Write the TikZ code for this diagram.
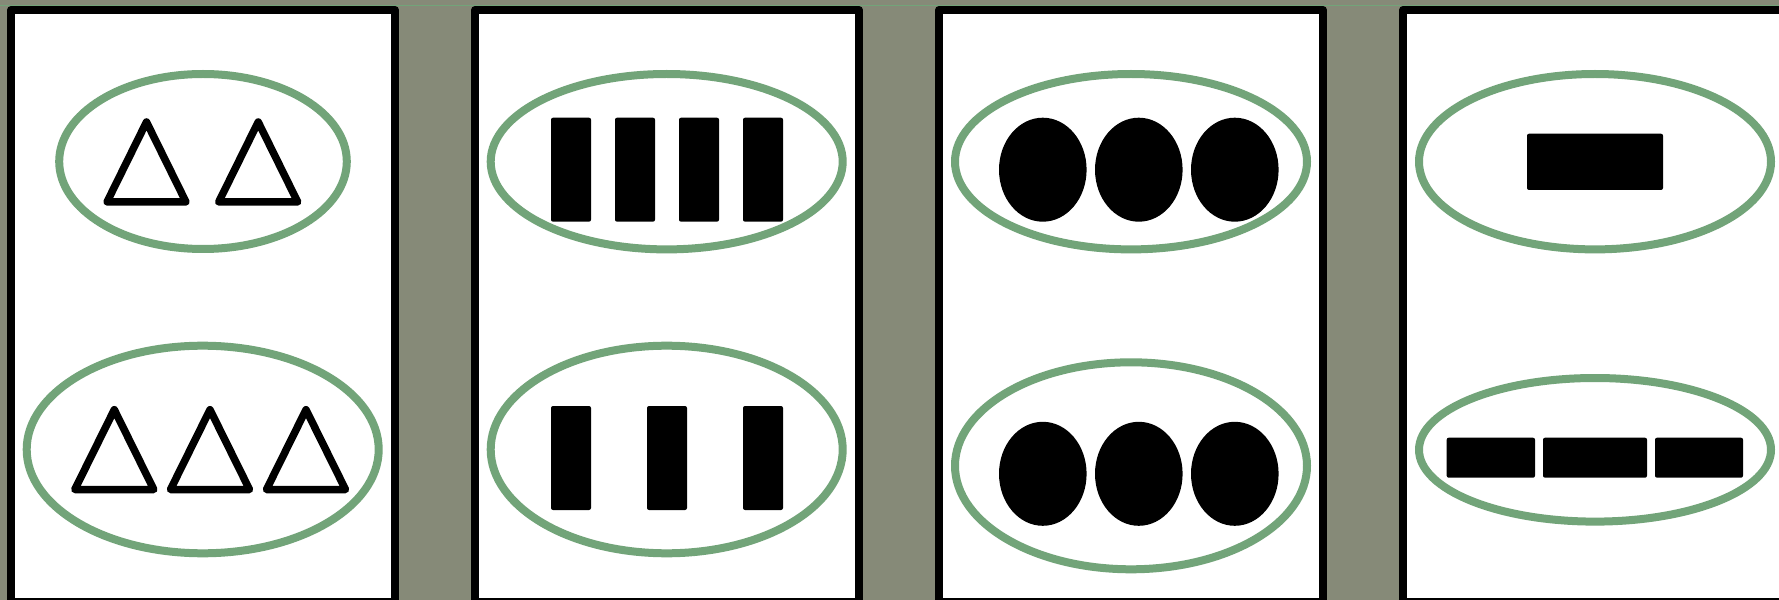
\documentclass[tikz,border=0pt]{standalone}
\usepackage{tikz}
\usetikzlibrary{positioning}

\definecolor{bggray}{HTML}{868A78}
\definecolor{ringgreen}{HTML}{72A479}

\begin{document}
\begin{tikzpicture}[x=0.1mm, y=-0.1mm,
    panel/.style={draw=black, fill=white, line width=0.8mm, line join=round},
    ring/.style={draw=ringgreen, line width=0.8mm},
    tri/.style={draw=black, fill=white, line width=0.75mm, line join=round},
    bar/.style={fill=black, rounded corners=0.2mm}]
    \fill[bggray] (0, 0) rectangle (1779, 600);
    \useasboundingbox (0, 0) rectangle (1779, 600);
    \draw[ringgreen, line width=0.15mm] (0, 5.5) -- (1779, 5.5);

    % Panels
    \foreach \x in {11, 475, 939, 1403} {
        \draw[panel] (\x, 10) rectangle ++(384, 592);
    }

    % Panel 1: triangles
    \draw[ring] (203, 161.5) ellipse [x radius=143.8, y radius=87.5];
    \foreach \cx in {146.5, 258.2} {
        \draw[tri] (\cx, 122) -- (\cx+39.5, 202) -- (\cx-39.5, 202) -- cycle;
    }
    \draw[ring] (202.7, 449.5) ellipse [x radius=176, y radius=103.8];
    \foreach \cx in {114.3, 210, 306} {
        \draw[tri] (\cx, 409.7) -- (\cx+39.5, 489.5) -- (\cx-39.5, 489.5) -- cycle;
    }

    % Panel 2: upright bars
    \draw[ring] (666.7, 161.7) ellipse [x radius=176, y radius=87.7];
    \foreach \cx in {571, 635, 699, 763} {
        \fill[bar] (\cx-20, 117.7) rectangle ++(40, 104);
    }
    \draw[ring] (666.7, 449.5) ellipse [x radius=176, y radius=103.8];
    \foreach \cx in {571, 667, 763} {
        \fill[bar] (\cx-20, 406) rectangle ++(40, 104);
    }

    % Panel 3: dots
    \draw[ring] (1131, 161.7) ellipse [x radius=176, y radius=87.7];
    \foreach \cx in {1042.8, 1138.8, 1234.8} {
        \fill (\cx, 169.7) ellipse [x radius=43.8, y radius=52];
    }
    \draw[ring] (1131, 465.8) ellipse [x radius=176, y radius=103.5];
    \foreach \cx in {1042.8, 1138.8, 1234.8} {
        \fill (\cx, 473.8) ellipse [x radius=43.8, y radius=52];
    }

    % Panel 4: flat bars
    \draw[ring] (1595, 161.7) ellipse [x radius=176, y radius=87.7];
    \fill[bar] (1527, 133.7) rectangle (1663, 190);
    \draw[ring] (1595, 449.8) ellipse [x radius=176, y radius=71.8];
    \fill[bar] (1446.7, 437.7) rectangle (1535, 477.7);
    \fill[bar] (1543, 437.7) rectangle (1647, 477.7);
    \fill[bar] (1655, 437.7) rectangle (1743, 477.7);
\end{tikzpicture}
\end{document}
